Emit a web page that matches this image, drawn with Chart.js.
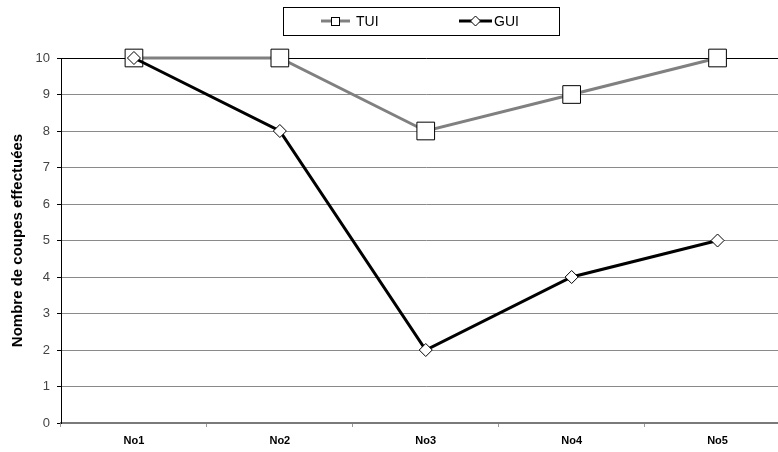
<!DOCTYPE html>
<html>
<head>
<meta charset="utf-8">
<script src="https://cdn.jsdelivr.net/npm/chart.js@4/dist/chart.umd.min.js"></script>
<style>
    html, body { margin: 0; padding: 0; background: #fff; overflow: hidden; }
    #wrap { width: 778px; height: 452px; overflow: hidden; position: relative; }
    #chart { position: absolute; left: 0; top: 0; }
</style>
</head>
<body>
<div id="wrap"><canvas id="chart" width="804" height="452"></canvas></div>
<script>
// Chart data
const categories = ['No1', 'No2', 'No3', 'No4', 'No5'];
const tuiValues = [10, 10, 8, 9, 10];
const guiValues = [10, 8, 2, 4, 5];
const yTicks = [0, 1, 2, 3, 4, 5, 6, 7, 8, 9, 10];
const seriesNames = ['TUI', 'GUI'];
const yTitle = 'Nombre de coupes effectuées';

const FONT = '"Liberation Sans", Arial, sans-serif';

// Legend drawn like the original spreadsheet legend (line + marker)
const boxLegend = {
    id: 'boxLegend',
    afterDraw(chart) {
        const ctx = chart.ctx;
        ctx.save();
        ctx.fillStyle = '#fff';
        ctx.fillRect(283, 7, 276, 28);
        ctx.strokeStyle = '#000';
        ctx.lineWidth = 1;
        ctx.strokeRect(283.5, 7.5, 276, 28);

        const y = 21;
        // TUI
        ctx.strokeStyle = '#808080';
        ctx.lineWidth = 3;
        ctx.beginPath();
        ctx.moveTo(321, y);
        ctx.lineTo(350, y);
        ctx.stroke();
        ctx.fillStyle = '#fff';
        ctx.fillRect(331, y - 4, 8, 8);
        ctx.strokeStyle = '#000';
        ctx.lineWidth = 1;
        ctx.strokeRect(331.5, y - 3.5, 8, 8);

        // GUI
        ctx.strokeStyle = '#000';
        ctx.lineWidth = 3;
        ctx.beginPath();
        ctx.moveTo(459, y);
        ctx.lineTo(492, y);
        ctx.stroke();
        ctx.beginPath();
        ctx.moveTo(470.5, y);
        ctx.lineTo(475.5, y - 5);
        ctx.lineTo(480.5, y);
        ctx.lineTo(475.5, y + 5);
        ctx.closePath();
        ctx.fillStyle = '#fff';
        ctx.fill();
        ctx.lineWidth = 1;
        ctx.stroke();

        ctx.fillStyle = '#000';
        ctx.font = '14px ' + FONT;
        ctx.textBaseline = 'middle';
        ctx.textAlign = 'left';
        ctx.fillText(seriesNames[0], 356, y + 1);
        ctx.fillText(seriesNames[1], 494, y + 1);
        ctx.restore();
    }
};

const ctx = document.getElementById('chart').getContext('2d');
new Chart(ctx, {
    type: 'line',
    data: {
        labels: categories,
        datasets: [{
            label: seriesNames[0],
            data: tuiValues,
            borderColor: '#808080',
            borderWidth: 3,
            pointStyle: 'rect',
            pointRadius: 12.5,
            pointBackgroundColor: '#fff',
            pointBorderColor: '#000',
            pointBorderWidth: 1,
            tension: 0,
            clip: false,
            order: 2
        }, {
            label: seriesNames[1],
            data: guiValues,
            borderColor: '#000',
            borderWidth: 3,
            pointStyle: 'rectRot',
            pointRadius: 6.5,
            pointBackgroundColor: '#fff',
            pointBorderColor: '#000',
            pointBorderWidth: 1,
            tension: 0,
            clip: false,
            order: 1
        }]
    },
    options: {
        responsive: false,
        animation: false,
        layout: { padding: { top: 58, right: 0, bottom: 0, left: 0 } },
        plugins: {
            legend: { display: false },
            tooltip: { enabled: false }
        },
        scales: {
            x: {
                offset: true,
                grid: {
                    offset: true,
                    drawOnChartArea: false,
                    tickLength: 4,
                    tickColor: '#999'
                },
                border: { color: '#7a7a7a', width: 2 },
                ticks: {
                    color: '#000',
                    padding: 7,
                    font: { family: FONT, size: 11, weight: 'bold' }
                },
                afterFit(scale) { scale.height = 29; }
            },
            y: {
                min: 0,
                max: 10,
                afterBuildTicks(scale) { scale.ticks = yTicks.map(v => ({ value: v })); },
                grid: {
                    color: c => (c.tick && c.tick.value === 10) ? '#000' : '#8a8a8a',
                    tickLength: 4,
                    tickColor: '#000'
                },
                border: { color: '#000', width: 1 },
                ticks: {
                    color: '#444',
                    padding: 7,
                    font: { family: FONT, size: 13 }
                },
                title: {
                    display: true,
                    text: yTitle,
                    color: '#000',
                    padding: { top: 9, bottom: 0 },
                    font: { family: FONT, size: 15, weight: 'bold' }
                },
                afterFit(scale) { scale.width = 61; }
            }
        }
    },
    plugins: [boxLegend]
});
</script>
</body>
</html>
